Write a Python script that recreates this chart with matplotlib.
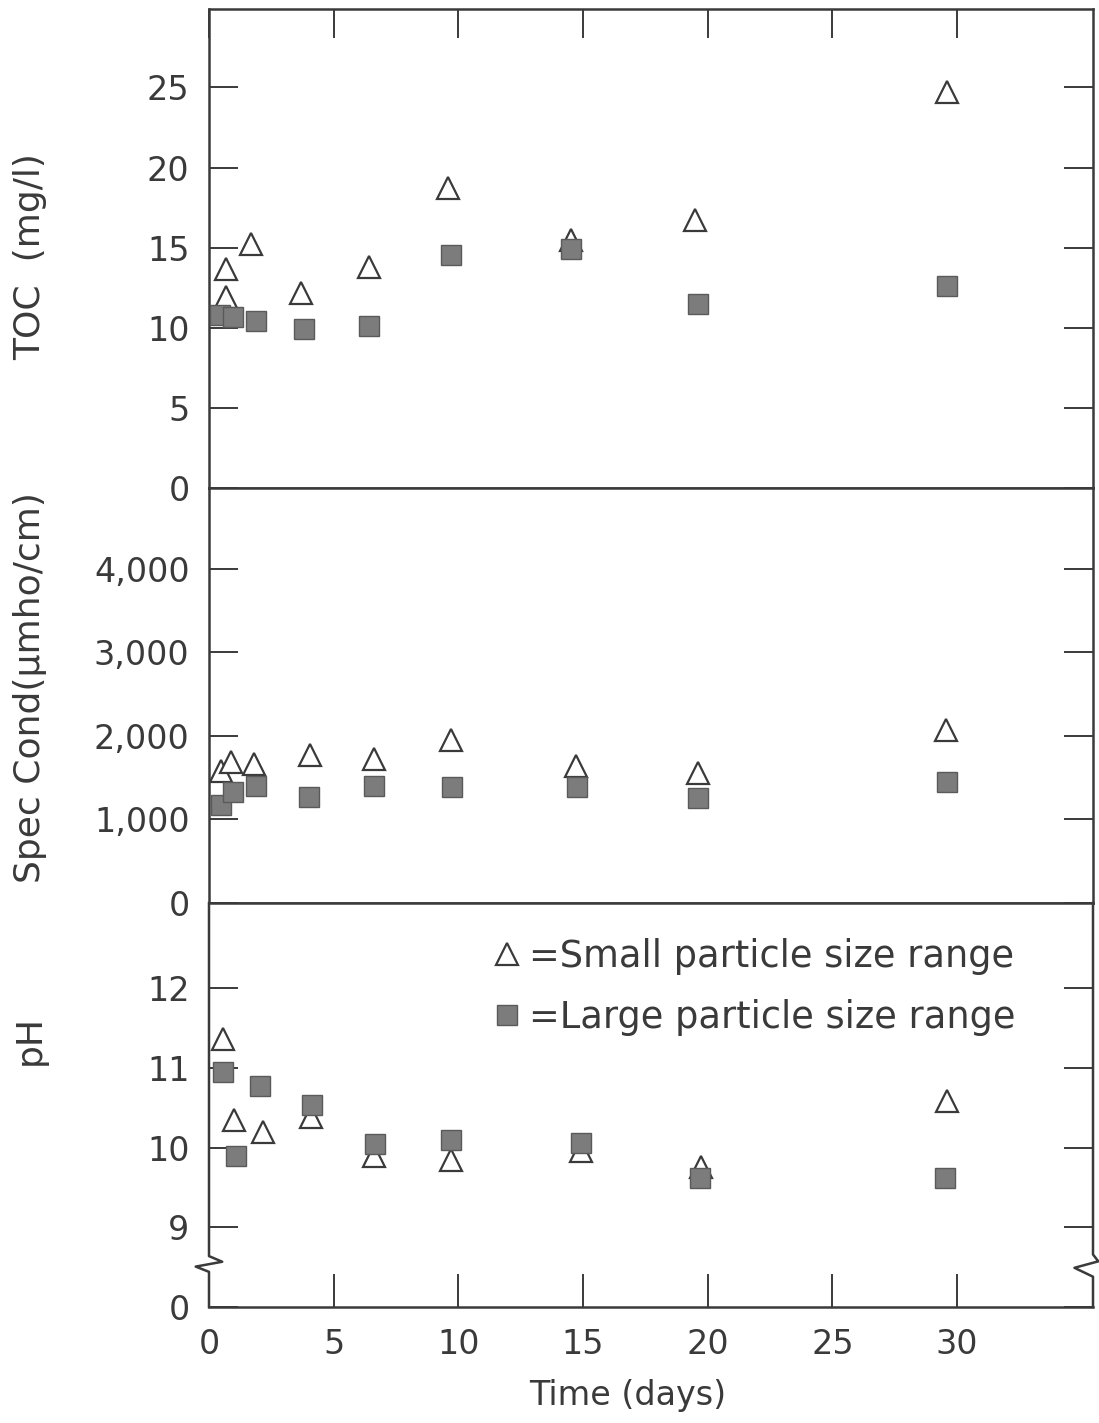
import matplotlib
matplotlib.use("Agg")
import matplotlib.pyplot as plt
from matplotlib.lines import Line2D

toc_days_small = [0.7, 0.7, 1.7, 3.7, 6.4, 9.6, 14.5, 19.5, 29.6]
toc_small = [13.7, 11.9, 15.2, 12.2, 13.8, 18.7, 15.5, 16.7, 24.7]
toc_days_large = [0.45, 0.95, 1.9, 3.8, 6.4, 9.7, 14.5, 19.6, 29.6]
toc_large = [10.8, 10.7, 10.45, 9.9, 10.1, 14.55, 14.9, 11.5, 12.6]

sc_days_small = [0.5, 0.9, 1.8, 4.05, 6.6, 9.7, 14.7, 19.6, 29.55]
sc_small = [1578, 1687, 1663, 1771, 1723, 1950, 1640, 1554, 2072]
sc_days_large = [0.5, 0.95, 1.9, 4.0, 6.6, 9.75, 14.75, 19.6, 29.6]
sc_large = [1169, 1325, 1397, 1265, 1397, 1385, 1385, 1253, 1446]

ph_days_small = [0.55, 1.0, 2.15, 4.1, 6.6, 9.7, 14.9, 19.75, 29.6]
ph_small = [11.36, 10.35, 10.19, 10.38, 9.9, 9.84, 9.96, 9.76, 10.59]
ph_days_large = [0.55, 1.1, 2.05, 4.15, 6.65, 9.7, 14.9, 19.7, 29.5]
ph_large = [10.95, 9.89, 10.77, 10.54, 10.04, 10.09, 10.06, 9.62, 9.62]

x_ticks = [0, 5, 10, 15, 20, 25, 30]
toc_ticks = [0, 5, 10, 15, 20, 25]
sc_ticks = [0, 1000, 2000, 3000, 4000]
sc_labels = ["0", "1,000", "2,000", "3,000", "4,000"]
ph_ticks = [8, 9, 10, 11, 12]          # bottom tick stands for the broken "0"
ph_labels = ["0", "9", "10", "11", "12"]

INK = "#3a3a3a"
GREY = "#7c7c7c"
FS = 24

plt.rcParams["font.family"] = ["DejaVu Sans"]

W, H = 1099, 1423
fig = plt.figure(figsize=(W / 100, H / 100), dpi=100)


def px_axes(top, bottom, left=209, right=1093):
    return fig.add_axes([left / W, 1 - bottom / H, (right - left) / W, (bottom - top) / H])


ax_toc = px_axes(9, 488)
ax_sc = px_axes(488, 903)
ax_ph = px_axes(903, 1307)

small_kw = dict(ls="none", marker="^", ms=16, mfc="white", mec=INK, mew=1.6, zorder=3)
large_kw = dict(ls="none", marker="s", ms=15, mfc=GREY, mec="#5a5a5a", mew=1.0, zorder=4)

ax_toc.plot(toc_days_small, toc_small, **small_kw)
ax_toc.plot(toc_days_large, toc_large, **large_kw)
ax_sc.plot(sc_days_small, sc_small, **small_kw)
ax_sc.plot(sc_days_large, sc_large, **large_kw)
ax_ph.plot(ph_days_small, ph_small, **small_kw)
ax_ph.plot(ph_days_large, ph_large, **large_kw)

for ax in (ax_toc, ax_sc, ax_ph):
    ax.set_xlim(0, 35.45)
    for s in ax.spines.values():
        s.set_linewidth(1.8)
        s.set_color(INK)
    ax.tick_params(axis="y", which="both", direction="in", left=True, right=True,
                   length=21, width=1.4, color=INK, pad=14, labelsize=FS, labelcolor=INK)
    ax.set_xticks(x_ticks)

ax_toc.set_ylim(0, 29.9)
ax_toc.set_yticks(toc_ticks)
ax_toc.tick_params(axis="x", direction="in", top=True, bottom=False, labeltop=False,
                   labelbottom=False, length=21, width=1.4, color=INK)

ax_sc.set_ylim(0, 4970)
ax_sc.set_yticks(sc_ticks, sc_labels)
ax_sc.tick_params(axis="x", top=False, bottom=False, labelbottom=False)

ax_ph.set_ylim(8.0, 13.07)
ax_ph.set_yticks(ph_ticks, ph_labels)
ax_ph.tick_params(axis="x", direction="in", top=False, bottom=True, length=24, width=1.4,
                  color=INK, pad=15, labelsize=FS, labelcolor=INK)

# broken vertical axes in the pH panel
ax_ph.spines["left"].set_visible(False)
ax_ph.spines["right"].set_visible(False)
ax_ph.add_line(Line2D([0, 0, 0.015, -0.015, 0, 0], [1, 0.126, 0.112, 0.100, 0.087, 0],
                      transform=ax_ph.transAxes, color=INK, lw=1.8, clip_on=False))
ax_ph.add_line(Line2D([1, 1, 1.006, 0.979, 1, 1], [1, 0.13, 0.113, 0.097, 0.075, 0],
                      transform=ax_ph.transAxes, color=INK, lw=1.8, clip_on=False))

# legend
handles = [Line2D([], [], **small_kw), Line2D([], [], **large_kw)]
fig.legend(handles, ["=Small particle size range", "=Large particle size range"],
           loc="upper left", bbox_to_anchor=(492 / W, 1 - 938 / H), frameon=False,
           fontsize=26.5, labelcolor=INK, handlelength=0.8, handletextpad=0.2,
           labelspacing=0.66, borderpad=0, borderaxespad=0)

# axis titles
fig.text(30 / W, 1 - 257 / H, "TOC  (mg/l)", rotation=90, ha="center", va="center",
         fontsize=26, color=INK)
fig.text(30 / W, 1 - 688 / H, "Spec Cond(\u03bcmho/cm)", rotation=90, ha="center",
         va="center", fontsize=26, color=INK)
fig.text(30 / W, 1 - 1040 / H, "pH", rotation=90, ha="center", va="center",
         fontsize=26, color=INK)
fig.text(628 / W, 1 - 1395 / H, "Time (days)", ha="center", va="center",
         fontsize=FS, color=INK)

fig.savefig("out.png", dpi=100)
